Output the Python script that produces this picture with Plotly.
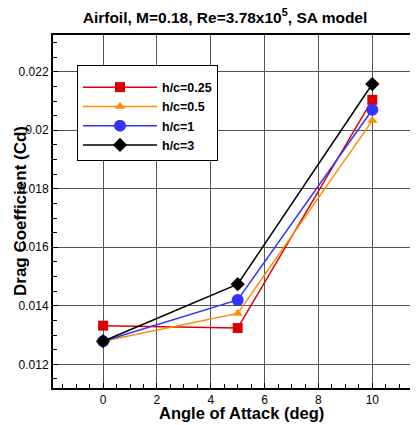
import plotly.graph_objects as go

aoa = [0, 5, 10]
cd_025 = [0.01332, 0.01324, 0.02104]
cd_05 = [0.01279, 0.01374, 0.02033]
cd_1 = [0.01279, 0.01420, 0.02070]
cd_3 = [0.01279, 0.01474, 0.02158]

series = [
    ("h/c=0.25", cd_025, "#dd0000", "square", 10),
    ("h/c=0.5", cd_05, "#ff8c00", "triangle-up", 9),
    ("h/c=1", cd_1, "#3333ff", "circle", 12),
    ("h/c=3", cd_3, "#000000", "diamond", 11),
]

FONT = "Liberation Sans, Arial, sans-serif"
# page body has an 8px margin; figure coords = window coords - 8
W, H = 402, 417
L, T, R, B = 45, 27, 0, 37
PW, PH = W - L - R, H - T - B

fig = go.Figure()
for name, ys, color, sym, size in series:
    fig.add_trace(go.Scatter(
        x=aoa, y=ys, name="<b>" + name + "</b>", mode="lines+markers",
        line=dict(color=color, width=1.5),
        marker=dict(symbol=sym, size=size, color=color, line=dict(width=0)),
    ))

fig.update_layout(
    width=W, height=H,
    margin=dict(l=L, r=R, t=T, b=B, autoexpand=False),
    paper_bgcolor="white", plot_bgcolor="white",
    font=dict(family=FONT, size=12, color="black"),
    title=dict(text="<b>Airfoil, M=0.18, Re=3.78x10<sup>5</sup>, SA model</b>",
               x=(225 - 8) / W, xanchor="center", y=1 - (17.5 - 8) / H, yanchor="middle",
               font=dict(family=FONT, size=15.5, color="black")),
    showlegend=True,
    legend=dict(x=(77 - 53) / PW, y=1 - (65 - 35) / PH, xanchor="left", yanchor="top",
                bgcolor="white", bordercolor="black", borderwidth=1,
                font=dict(family=FONT, size=12.5, color="black"),
                itemwidth=74,
                title=dict(text="<b> </b>", font=dict(size=5))),
    annotations=[
        dict(text="<b>Angle of Attack (deg)</b>", xref="paper", yref="paper",
             x=(241 - 53) / PW, y=-(413 - 388) / PH, xanchor="center", yanchor="middle",
             showarrow=False, font=dict(family=FONT, size=16.5, color="black")),
        dict(text="<b>Drag Coefficient (Cd)</b>", xref="paper", yref="paper",
             x=-(53 - 21) / PW, y=1 - (211 - 35) / PH, xanchor="center", yanchor="middle",
             textangle=-90, showarrow=False, font=dict(family=FONT, size=17, color="black")),
    ],
)

fig.update_xaxes(
    range=[-1.86, 11.40], tickvals=[0, 2, 4, 6, 8, 10], automargin=False,
    showgrid=True, gridcolor="#555555", gridwidth=1,
    showline=True, linecolor="black", linewidth=2, mirror=True,
    ticks="inside", ticklen=5, tickcolor="black", zeroline=False,
    minor=dict(dtick=0.5, tick0=0, ticks="inside", ticklen=4, tickcolor="black", showgrid=False),
    tickfont=dict(family=FONT, size=12, color="black"),
)
fig.update_yaxes(
    range=[0.01119, 0.023256], tickvals=[0.012, 0.014, 0.016, 0.018, 0.020, 0.022],
    ticktext=["0.012", "0.014", "0.016", "0.018", "0.02", "0.022"], automargin=False,
    showgrid=True, gridcolor="#555555", gridwidth=1,
    showline=True, linecolor="black", linewidth=2, mirror=False,
    ticks="inside", ticklen=5, tickcolor="black", zeroline=False,
    minor=dict(dtick=0.0005, tick0=0.012, ticks="inside", ticklen=4, tickcolor="black", showgrid=False),
    tickfont=dict(family=FONT, size=12, color="black"),
)

fig.write_html("out.html")
